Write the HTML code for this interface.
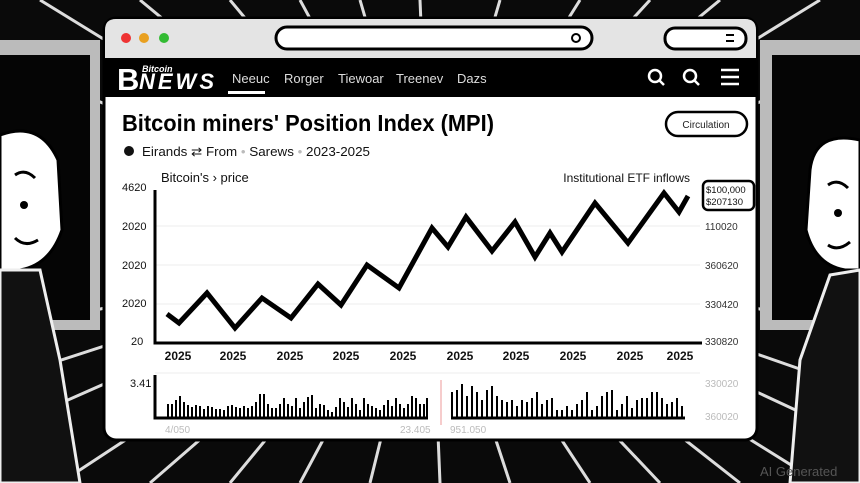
<!DOCTYPE html>
<html><head><meta charset="utf-8"><style>
html,body{margin:0;padding:0;background:#000;}
svg{display:block;font-family:"Liberation Sans",sans-serif;}
</style></head><body>
<svg width="860" height="483" viewBox="0 0 860 483" xmlns="http://www.w3.org/2000/svg">
<rect width="860" height="483" fill="#0a0a0a"/>
<g stroke="#ddd" stroke-width="3" fill="none">
<path d="M430 240 L40 0 M430 240 L140 0 M430 240 L230 0 M430 240 L300 0 M430 240 L360 0 M430 240 L420 0 M430 240 L500 0 M430 240 L580 0 M430 240 L650 0 M430 240 L720 0 M430 240 L820 0"/>
<path d="M430 240 L60 483 M430 240 L150 483 M430 240 L230 483 M430 240 L300 483 M430 240 L370 483 M430 240 L440 483 M430 240 L510 483 M430 240 L590 483 M430 240 L660 483 M430 240 L740 483 M430 240 L820 483"/>
<path d="M430 240 L0 330 M430 240 L0 380 M430 240 L0 430 M430 240 L860 330 M430 240 L860 390 M430 240 L860 440 M430 240 L0 60 M430 240 L860 60"/>
</g>
<rect x="-10" y="40" width="110" height="290" fill="#bbb"/>
<rect x="0" y="55" width="90" height="265" fill="#050505"/>
<rect x="760" y="40" width="110" height="290" fill="#bbb"/>
<rect x="772" y="55" width="90" height="265" fill="#050505"/>
<path d="M0 135 Q40 120 58 160 L62 230 Q50 265 20 270 L0 270 Z" fill="#fff" stroke="#000" stroke-width="3"/>
<path d="M0 270 L40 270 L60 360 L80 483 L0 483 Z" fill="#111" stroke="#eee" stroke-width="3"/>
<circle cx="24" cy="205" r="4" fill="#000"/><path d="M15 175 Q25 168 35 178" stroke="#000" stroke-width="3" fill="none"/>
<path d="M15 238 Q25 248 38 240" stroke="#000" stroke-width="3" fill="none"/>
<path d="M860 140 Q815 130 810 170 L806 230 Q815 265 845 270 L860 270 Z" fill="#fff" stroke="#000" stroke-width="3"/>
<path d="M860 270 L830 275 L800 360 L790 483 L860 483 Z" fill="#111" stroke="#eee" stroke-width="3"/>
<circle cx="838" cy="213" r="4" fill="#000"/><path d="M828 185 Q838 178 848 188" stroke="#000" stroke-width="3" fill="none"/>
<path d="M828 245 Q838 252 850 242" stroke="#000" stroke-width="3" fill="none"/>
<rect x="104" y="18" width="653" height="422" rx="12" fill="#fff" stroke="#000" stroke-width="3"/>
<path d="M105 58 L105 30 Q105 19 116 19 L745 19 Q756 19 756 30 L756 58 Z" fill="#e4e4e4"/>
<circle cx="126" cy="38" r="5" fill="#e33"/><circle cx="144" cy="38" r="5" fill="#e9a020"/><circle cx="164" cy="38" r="5" fill="#3b3"/>
<rect x="276" y="27" width="316" height="22" rx="11" fill="#fff" stroke="#000" stroke-width="3"/>
<circle cx="576" cy="38" r="4" fill="none" stroke="#000" stroke-width="2"/>
<rect x="665" y="28" width="81" height="21" rx="10" fill="#fff" stroke="#000" stroke-width="3"/>
<path d="M726 35 h8 M726 41 h8" stroke="#000" stroke-width="2"/>
<rect x="105" y="58" width="651" height="39" fill="#000"/>
<text x="117" y="90" font-size="31" font-weight="bold" fill="#fff">B</text>
<text x="142" y="72" font-size="9" font-style="italic" font-weight="bold" fill="#fff">Bitcoin</text>
<text x="139" y="89" font-size="22" font-style="italic" font-weight="bold" fill="#fff" textLength="75">NEWS</text>
<g fill="#ddd" font-size="13"><text x="232" y="83">Neeuc</text><text x="284" y="83">Rorger</text><text x="338" y="83">Tiewoar</text><text x="396" y="83">Treenev</text><text x="457" y="83">Dazs</text></g>
<rect x="228" y="91" width="37" height="3" fill="#fff"/>
<g stroke="#fff" stroke-width="2.5" fill="none"><circle cx="655" cy="76" r="6"/><path d="M659 80 l5 5"/><circle cx="690" cy="76" r="6"/><path d="M694 80 l5 5"/><path d="M721 70 h18 M721 77 h18 M721 84 h18"/></g>
<text x="122" y="131" font-size="23" font-weight="bold" fill="#000" textLength="372" lengthAdjust="spacingAndGlyphs">Bitcoin miners' Position Index (MPI)</text>
<rect x="666" y="112" width="81" height="24" rx="12" fill="#fff" stroke="#000" stroke-width="2.5"/>
<text x="706" y="128" font-size="10" text-anchor="middle" fill="#222">Circulation</text>
<circle cx="129" cy="151" r="5" fill="#111"/>
<text x="142" y="156" font-size="13" fill="#111" textLength="228" lengthAdjust="spacingAndGlyphs">Eirands ⇄ From  <tspan fill="#bbb"> • </tspan> Sarews <tspan fill="#bbb"> • </tspan> 2023-2025</text>
<text x="161" y="182" font-size="13" fill="#111">Bitcoin's › price</text>
<text x="690" y="182" font-size="12" text-anchor="end" fill="#111">Institutional ETF inflows</text>
<g stroke="#eee" stroke-width="1"><path d="M155 226 H700 M155 265 H700 M155 304 H700"/></g>
<path d="M155 190 V343 H702" stroke="#000" stroke-width="3" fill="none"/>
<g font-size="11" fill="#111"><text x="122" y="191">4620</text><text x="122" y="230">2020</text><text x="122" y="269">2020</text><text x="122" y="307">2020</text><text x="131" y="345">20</text></g>
<g font-size="10" fill="#333"><text x="705" y="230">110020</text><text x="705" y="269">360620</text><text x="705" y="308">330420</text><text x="705" y="345">330820</text></g>
<rect x="703" y="181" width="51" height="29" rx="5" fill="#fff" stroke="#000" stroke-width="2.5"/>
<g font-size="9.5" fill="#111"><text x="706" y="193">$100,000</text><text x="706" y="205">$207130</text></g>
<polyline points="167,314 179,323 207,293 235,328 262,298 291,318 318,284 341,305 367,265 399,288 432,228 448,247 466,217 492,251 515,222 535,257 550,233 562,252 595,203 628,243 664,193 679,212 688,196" fill="none" stroke="#000" stroke-width="5" stroke-linejoin="miter"/>
<g font-size="12" fill="#111" font-weight="bold" text-anchor="middle"><text x="178" y="360">2025</text><text x="233" y="360">2025</text><text x="290" y="360">2025</text><text x="346" y="360">2025</text><text x="403" y="360">2025</text><text x="460" y="360">2025</text><text x="516" y="360">2025</text><text x="573" y="360">2025</text><text x="630" y="360">2025</text><text x="680" y="360">2025</text></g>
<path d="M155 373 H700" stroke="#eee"/>
<path d="M155 375 V418 H428 M451 418 H685" stroke="#000" stroke-width="3" fill="none"/>
<path d="M441 380 V425" stroke="#e99" stroke-width="1"/>
<g stroke="#000" stroke-width="2">
<path d="M168 418v-14M172 418v-14M176 418v-18M180 418v-22M184 418v-16M188 418v-13M192 418v-11M196 418v-13M200 418v-12M204 418v-9M208 418v-12M212 418v-11M216 418v-9M220 418v-9M224 418v-8M228 418v-12M232 418v-13M236 418v-11M240 418v-10M244 418v-12M248 418v-10M252 418v-12M256 418v-16M260 418v-24M264 418v-24M268 418v-14M272 418v-10M276 418v-10M280 418v-14M284 418v-20M288 418v-14M292 418v-12M296 418v-20M300 418v-10M304 418v-16M308 418v-21M312 418v-23M316 418v-10M320 418v-14M324 418v-13M328 418v-8M332 418v-6M336 418v-11M340 418v-20M344 418v-16M348 418v-11M352 418v-20M356 418v-14M360 418v-8M364 418v-20M368 418v-14M372 418v-12M376 418v-10M380 418v-8M384 418v-13M388 418v-18M392 418v-12M396 418v-20M400 418v-14M404 418v-10M408 418v-14M412 418v-22M416 418v-20M420 418v-14M424 418v-14M427 418v-20"/>
<path d="M452 418v-26M457 418v-28M462 418v-34M467 418v-22M472 418v-32M477 418v-26M482 418v-18M487 418v-28M492 418v-32M497 418v-22M502 418v-18M507 418v-16M512 418v-18M517 418v-12M522 418v-18M527 418v-16M532 418v-20M537 418v-26M542 418v-14M547 418v-18M552 418v-20M557 418v-8M562 418v-8M567 418v-12M572 418v-8M577 418v-14M582 418v-18M587 418v-26M592 418v-8M597 418v-12M602 418v-22M607 418v-26M612 418v-28M617 418v-8M622 418v-14M627 418v-22M632 418v-10M637 418v-18M642 418v-20M647 418v-20M652 418v-26M657 418v-26M662 418v-20M667 418v-14M672 418v-16M677 418v-20M682 418v-12"/>
</g>
<text x="130" y="387" font-size="11" fill="#111">3.41</text>
<g font-size="10" fill="#bbb"><text x="705" y="387">330020</text><text x="705" y="420">360020</text><text x="165" y="433">4/050</text><text x="400" y="433">23.405</text><text x="450" y="433">951.050</text></g>
<text x="760" y="476" font-size="13" fill="#555">AI Generated</text>
</svg>
</body></html>
